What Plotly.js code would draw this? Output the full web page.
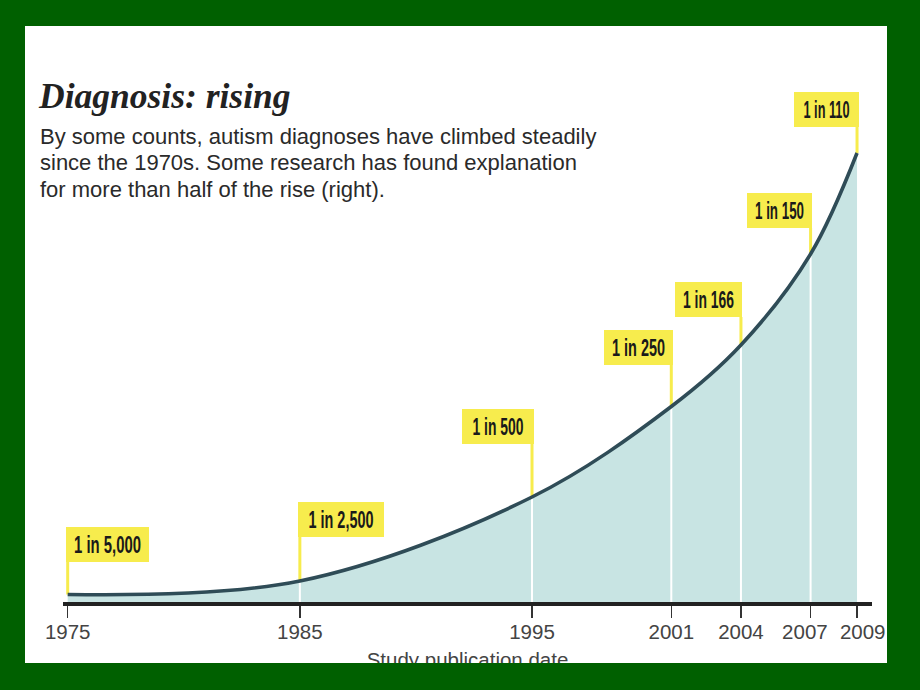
<!DOCTYPE html>
<html>
<head>
<meta charset="utf-8">
<script src="https://cdn.plot.ly/plotly-3.0.1.min.js"></script>
<style>
  html, body { margin: 0; padding: 0; width: 920px; height: 690px; background: #006000; overflow: hidden; }
  #panel { position: absolute; left: 25px; top: 26px; width: 862px; height: 637px; overflow: hidden; background: #ffffff; }
  #chart { position: absolute; left: -25px; top: -26px; width: 920px; height: 690px; }
</style>
</head>
<body>
<div id="panel"><div id="chart"></div></div>
<script>
// ---- data ----
const years = [1975, 1985, 1995, 2001, 2004, 2007, 2009];
const rateLabels = ['1 in 5,000', '1 in 2,500', '1 in 500', '1 in 250', '1 in 166', '1 in 150', '1 in 110'];
// height of the illustrative curve above the baseline (arbitrary units)
const curveHeight = [7.5, 21, 105, 195.5, 257, 348, 449];
const tickYears = [1975, 1985, 1995, 2001, 2004, 2007, 2009];
const tickText = ['1975', '1985', '1995', '2001', '2004', '2007\u00a0\u00a0', '\u00a0\u00a02009'];

// ---- label placement (style, not data) ----
const labelSide = ['left', 'left', 'right', 'right', 'right', 'right', 'right'];
const labelGap = [32.5, 44, 53, 41.5, 28, 26, 26];
const labelWidth = [83, 86, 72, 69, 67, 65, 65];
const labelTextLen = [67, 65, 51, 53, 51, 49, 46];

const fillColor = '#c8e4e3';
const lineColor = '#2f4c57';
const yellow = '#f7ec4d';

// white dividers inside the filled area (interior years)
const wx = [], wy = [];
for (let i = 1; i < years.length - 1; i++) {
  wx.push(years[i], years[i], null);
  wy.push(0, curveHeight[i] - 1.5, null);
}
// yellow leader lines from curve to label box
const lx = [], ly = [];
for (let i = 0; i < years.length; i++) {
  lx.push(years[i], years[i], null);
  ly.push(curveHeight[i], curveHeight[i] + labelGap[i], null);
}

const traces = [
  { x: years, y: curveHeight, type: 'scatter', mode: 'lines',
    line: { shape: 'spline', width: 0, color: fillColor }, fill: 'tozeroy', fillcolor: fillColor,
    hoverinfo: 'skip', showlegend: false },
  { x: wx, y: wy, type: 'scatter', mode: 'lines', line: { color: '#ffffff', width: 2 },
    hoverinfo: 'skip', showlegend: false },
  { x: lx, y: ly, type: 'scatter', mode: 'lines', line: { color: yellow, width: 3 },
    hoverinfo: 'skip', showlegend: false, cliponaxis: false },
  { x: years, y: curveHeight, type: 'scatter', mode: 'lines',
    line: { shape: 'spline', width: 3.6, color: lineColor },
    hoverinfo: 'skip', showlegend: false, cliponaxis: false }
];

const plotTop = 26, plotBottom = 602;
const py = p => (plotBottom - p) / (plotBottom - plotTop);
const px = p => (p - 63) / (872 - 63);

const annotations = [];
years.forEach((yr, i) => {
  annotations.push({
    x: yr, y: curveHeight[i] + labelGap[i], xref: 'x', yref: 'y',
    text: rateLabels[i], showarrow: false,
    xanchor: labelSide[i], yanchor: 'bottom',
    xshift: labelSide[i] === 'left' ? -1.5 : 1.5,
    width: labelWidth[i], height: 35, borderpad: 0, borderwidth: 0,
    bgcolor: yellow, align: 'center', valign: 'middle',
    font: { family: '"Liberation Sans", Arial, sans-serif', size: 23, weight: 'bold', color: '#1a1a1a' }
  });
});
const sub = [
  'By some counts, autism diagnoses have climbed steadily',
  'since the 1970s. Some research has found explanation',
  'for more than half of the rise (right).'
];
const subY = [136, 162.5, 189];
sub.forEach((t, i) => {
  annotations.push({
    x: px(40), y: py(subY[i]), xref: 'paper', yref: 'paper', text: t, showarrow: false,
    xanchor: 'left', yanchor: 'middle', align: 'left', xshift: -2,
    font: { family: '"Liberation Sans", Arial, sans-serif', size: 22, color: '#2a2a2a' }
  });
});

const layout = {
  width: 920, height: 690,
  margin: { l: 63, r: 48, t: plotTop, b: 690 - plotBottom, pad: 0 },
  paper_bgcolor: '#ffffff', plot_bgcolor: 'rgba(0,0,0,0)',
  title: {
    text: '<b><i>Diagnosis: rising</i></b>',
    font: { family: '"Liberation Serif", "Times New Roman", serif', size: 35.5, color: '#222222' },
    x: 39 / 920, xref: 'container', xanchor: 'left',
    y: 1 - 95.5 / 690, yref: 'container', yanchor: 'middle'
  },
  xaxis: {
    range: [1974.798, 2009.645], showgrid: false, zeroline: false,
    showline: true, linecolor: '#222222', linewidth: 4,
    ticks: 'outside', ticklen: 12, tickwidth: 1.5, tickcolor: '#333333',
    tickvals: tickYears, ticktext: tickText, tickangle: 0, ticklabelstandoff: -4,
    tickfont: { family: '"Liberation Sans", Arial, sans-serif', size: 20.5, color: '#444444' },
    title: { text: 'Study publication date', standoff: 12,
      font: { family: '"Liberation Sans", Arial, sans-serif', size: 20.5, color: '#444444' } },
    fixedrange: true
  },
  yaxis: { range: [0, plotBottom - plotTop], visible: false, fixedrange: true },
  annotations: annotations,
  showlegend: false
};

function condenseLabels() {
  const groups = document.querySelectorAll('#chart .annotation');
  groups.forEach(g => {
    const idx = +g.getAttribute('data-index');
    if (idx < labelTextLen.length) {
      const t = g.querySelector('text.annotation-text');
      if (t) {
        t.setAttribute('textLength', labelTextLen[idx]);
        t.setAttribute('lengthAdjust', 'spacingAndGlyphs');
      }
    }
  });
}

Plotly.newPlot('chart', traces, layout, { displayModeBar: false, staticPlot: true }).then(condenseLabels);
</script>
</body>
</html>
